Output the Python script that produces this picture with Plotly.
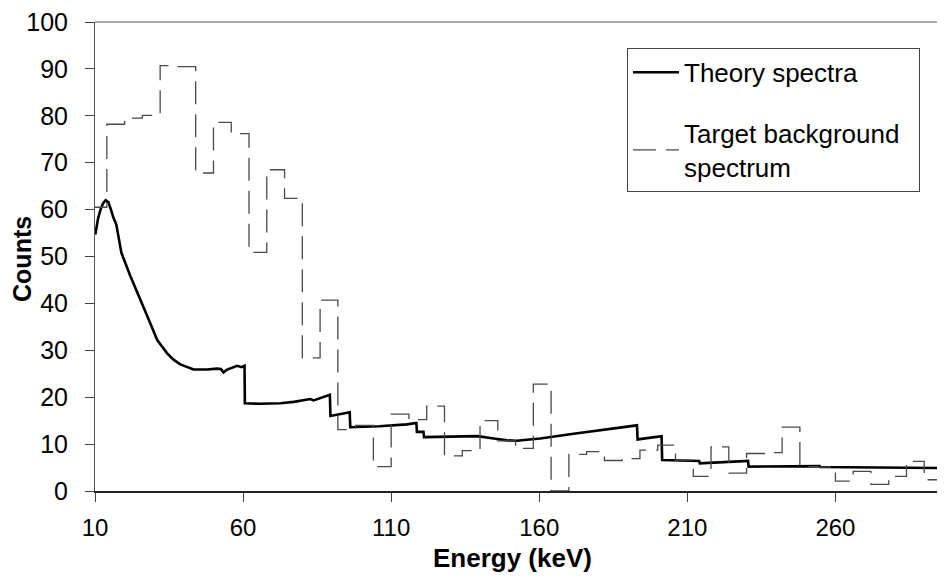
import plotly.graph_objects as go

# Target background spectrum: 6 keV bins (left edges) and counts
bg_edges = [8, 14, 20, 26, 32, 38, 44, 50, 56, 62, 68, 74, 80, 86, 92, 98, 104, 110,
            116, 122, 128, 134, 140, 146, 152, 158, 164, 170, 176, 182, 188, 194,
            200, 206, 212, 218, 224, 230, 236, 242, 248, 254, 260, 266, 272, 278,
            284, 290, 296, 302]
bg_counts = [60.5, 78.2, 79.5, 80.1, 90.7, 90.5, 67.8, 78.6, 76.2, 50.9, 68.5, 62.4,
             28.4, 40.7, 13.1, 14.0, 5.2, 16.4, 15.2, 18.1, 7.5, 8.6, 15.0, 10.7, 9.1,
             22.8, 0.0, 7.8, 8.4, 6.5, 6.9, 8.7, 9.8, 6.6, 3.1, 9.4, 3.8, 8.0, 8.2,
             13.6, 5.2, 5.1, 2.1, 4.2, 1.4, 3.1, 6.3, 2.4, 8.7, 8.7]

# Theory spectra
th_energy = [10.1, 11.0, 11.8, 12.7, 13.6, 14.5, 15.5, 16.2, 17.2, 18.9, 21.9, 25.3,
             28.7, 31.0, 34.3, 36.5, 38.8, 43.3, 47.8, 51.2, 52.5, 53.4, 54.6, 58.0,
             59.5, 60.5, 60.6, 65.8, 72.6, 77.1, 82.7, 83.8, 89.3, 89.5, 96.0, 96.2,
             106.0, 115.3, 118.5, 118.7, 120.9, 121.1, 130.0, 139.2, 144.6, 149.1,
             152.4, 160.3, 171.6, 182.9, 193.0, 193.2, 201.3, 201.5, 214.0, 214.2,
             230.5, 230.7, 254.7, 254.9, 275.0, 297.0]
th_counts = [54.7, 58.0, 59.9, 61.3, 62.0, 61.6, 59.8, 58.3, 56.8, 50.8, 45.9, 40.6,
             35.7, 32.2, 29.4, 28.0, 27.0, 25.9, 25.9, 26.1, 26.0, 25.3, 25.9, 26.7,
             26.4, 26.7, 18.7, 18.6, 18.7, 19.0, 19.6, 19.3, 20.5, 16.0, 16.8, 13.6,
             13.8, 14.2, 14.5, 12.6, 12.6, 11.5, 11.6, 11.7, 11.2, 10.8, 10.7, 11.2,
             12.2, 13.1, 14.0, 11.0, 11.7, 6.6, 6.4, 5.9, 6.4, 5.2, 5.3, 5.1, 5.0, 4.9]

x_ticks = [10, 60, 110, 160, 210, 260]
y_ticks = [0, 10, 20, 30, 40, 50, 60, 70, 80, 90, 100]

FONT = "Liberation Sans, Arial, sans-serif"

fig = go.Figure()
fig.add_trace(go.Scatter(
    x=th_energy, y=th_counts, mode="lines", name="Theory spectra",
    line=dict(color="black", width=2.6), legendgroup="a"))
fig.add_trace(go.Scatter(
    x=bg_edges, y=bg_counts, mode="lines",
    name="Target background&nbsp;&nbsp;<br>spectrum",
    line=dict(color="#4a4a4a", width=1.3, dash="23px,10px", shape="hv"),
    legendgroup="b"))

# page body has an 8px default margin, so the figure is 8px smaller than the window
fig.update_layout(
    width=937, height=569,
    margin=dict(l=87, r=0, t=8, b=86),
    paper_bgcolor="white", plot_bgcolor="white",
    font=dict(family=FONT, color="black"),
    showlegend=True,
    legend=dict(x=0.6259, y=0.945, xanchor="left", yanchor="top",
                bordercolor="#444", borderwidth=1, bgcolor="white",
                font=dict(size=26, family=FONT), tracegroupgap=24,
                traceorder="grouped", itemwidth=46),
    xaxis=dict(range=[10, 297], tickvals=x_ticks, ticktext=[str(v) for v in x_ticks],
               showgrid=False, zeroline=False, showline=True, linecolor="#222",
               linewidth=2, ticks="outside", ticklen=9, tickcolor="#444",
               tickfont=dict(size=24, family=FONT), ticklabelstandoff=5,
               ticklabeloverflow="allow"),
    yaxis=dict(range=[0, 100], tickvals=y_ticks, showgrid=False, zeroline=False,
               showline=True, linecolor="#555", linewidth=1, ticks="outside",
               ticklen=9, tickcolor="#444", tickfont=dict(size=25, family=FONT),
               ticklabelstandoff=12, ticklabeloverflow="allow"),
    shapes=[dict(type="line", xref="paper", yref="paper", x0=0, x1=1, y0=1, y1=1,
                 line=dict(color="#555", width=1))],
    annotations=[
        dict(text="<b>Energy (keV)</b>", xref="paper", yref="paper", x=0.4916,
             y=-0.142, xanchor="center", yanchor="middle", showarrow=False,
             font=dict(size=26, family=FONT, color="black")),
        dict(text="<b>Counts</b>", xref="paper", yref="paper", x=-0.0859, y=0.4947,
             xanchor="center", yanchor="middle", showarrow=False, textangle=-90,
             font=dict(size=25, family=FONT, color="black")),
    ],
)

fig.write_html("out.html")
